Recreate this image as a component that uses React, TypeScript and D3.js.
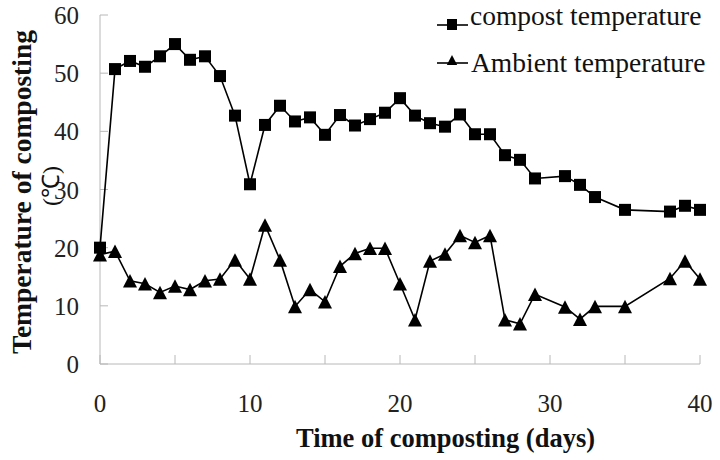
import { line, scaleLinear } from "d3";

// days sampled (no samples on 30, 34, 36, 37)
const days = [
  0, 1, 2, 3, 4, 5, 6, 7, 8, 9, 10, 11, 12, 13, 14, 15, 16, 17, 18, 19, 20, 21,
  22, 23, 24, 25, 26, 27, 28, 29, 31, 32, 33, 35, 38, 39, 40,
];

const compostTemp = [
  20, 50.7, 52.1, 51.1, 52.9, 55.0, 52.3, 52.9, 49.5, 42.7, 30.9, 41.1, 44.4,
  41.7, 42.4, 39.4, 42.8, 41.0, 42.1, 43.2, 45.7, 42.7, 41.4, 40.8, 42.9, 39.5,
  39.5, 35.9, 35.1, 31.9, 32.3, 30.8, 28.7, 26.5, 26.2, 27.2, 26.5,
];

const ambientTemp = [
  18.8, 19.4, 14.3, 13.8, 12.3, 13.4, 12.8, 14.3, 14.6, 17.9, 14.6, 23.9, 17.9,
  9.9, 12.8, 10.7, 16.8, 19.0, 19.9, 19.9, 13.8, 7.6, 17.7, 18.9, 22.1, 20.9,
  22.1, 7.6, 6.9, 12.0, 9.8, 7.7, 9.9, 9.9, 14.7, 17.7, 14.6,
];

const xTickLabels = [0, 10, 20, 30, 40];
const xMinorTicks = [0, 5, 10, 15, 20, 25, 30, 35, 40];
const yTicks = [0, 10, 20, 30, 40, 50, 60];

const width = 720;
const height = 460;
const axisColor = "#b8b8b8";
const serif = "'Liberation Serif', 'Times New Roman', serif";

const x = scaleLinear().domain([0, 40]).range([100, 700]);
const y = scaleLinear().domain([0, 60]).range([364, 15]);

const tri = (cx: number, cy: number, s: number) =>
  `M${cx},${cy - s * 0.5}L${cx + s * 0.52},${cy + s * 0.5}L${cx - s * 0.52},${cy + s * 0.5}Z`;

export default function App() {
  const seriesLine = line<number>()
    .x((_, i) => x(days[i]))
    .y((d) => y(d));

  return (
    <div style={{ position: "absolute", left: 0, top: 0 }}>
      <svg width={width} height={height} style={{ display: "block", background: "#fff" }}>
        {/* axes */}
        <line x1={x(0)} x2={x(0)} y1={y(60)} y2={y(0)} stroke={axisColor} />
        <line x1={x(0)} x2={x(40)} y1={y(0)} y2={y(0)} stroke={axisColor} />
        {yTicks.map((t) => (
          <g key={"y" + t}>
            <line x1={x(0)} x2={x(0) + 8} y1={y(t)} y2={y(t)} stroke={axisColor} />
            <text
              x={79}
              y={y(t) + 9}
              textAnchor="end"
              fontFamily={serif}
              fontSize={25}
              fill="#222"
            >
              {t}
            </text>
          </g>
        ))}
        {xMinorTicks.map((t) => (
          <line key={"xt" + t} x1={x(t)} x2={x(t)} y1={y(0)} y2={y(0) - 9} stroke={axisColor} />
        ))}
        {xTickLabels.map((t) => (
          <text
            key={"xl" + t}
            x={x(t)}
            y={412}
            textAnchor="middle"
            fontFamily={serif}
            fontSize={25}
            fill="#222"
          >
            {t}
          </text>
        ))}

        {/* axis titles */}
        <text
          x={445.5}
          y={447}
          textAnchor="middle"
          fontFamily={serif}
          fontWeight="bold"
          fontSize={26.5}
          fill="#111"
        >
          Time of composting (days)
        </text>
        <text
          transform="translate(31,192) rotate(-90)"
          textAnchor="middle"
          fontFamily={serif}
          fontWeight="bold"
          fontSize={27.5}
          fill="#111"
        >
          Temperature of composting
        </text>
        <text
          transform="translate(59,186) rotate(-90)"
          textAnchor="middle"
          fontFamily={serif}
          fontSize={24}
          fill="#111"
        >
          (℃)
        </text>

        {/* series */}
        <path d={seriesLine(compostTemp) ?? ""} fill="none" stroke="#000" strokeWidth={1.6} />
        <path d={seriesLine(ambientTemp) ?? ""} fill="none" stroke="#000" strokeWidth={1.6} />
        {compostTemp.map((v, i) => (
          <rect key={"c" + i} x={x(days[i]) - 6} y={y(v) - 6} width={12} height={12} fill="#000" />
        ))}
        {ambientTemp.map((v, i) => (
          <path key={"a" + i} d={tri(x(days[i]), y(v), 13.5)} fill="#000" />
        ))}

        {/* legend */}
        <line x1={437} x2={468} y1={25} y2={25} stroke="#000" strokeWidth={1.6} />
        <rect x={447} y={19} width={10} height={11} fill="#000" />
        <text x={470} y={25} fontFamily={serif} fontSize={27.5} fill="#111">
          compost temperature
        </text>
        <line x1={437} x2={468} y1={63} y2={63} stroke="#000" strokeWidth={1.6} />
        <path d={tri(452, 60, 10)} fill="#000" />
        <text x={471} y={72} fontFamily={serif} fontSize={27.5} fill="#111">
          Ambient temperature
        </text>
      </svg>
    </div>
  );
}
